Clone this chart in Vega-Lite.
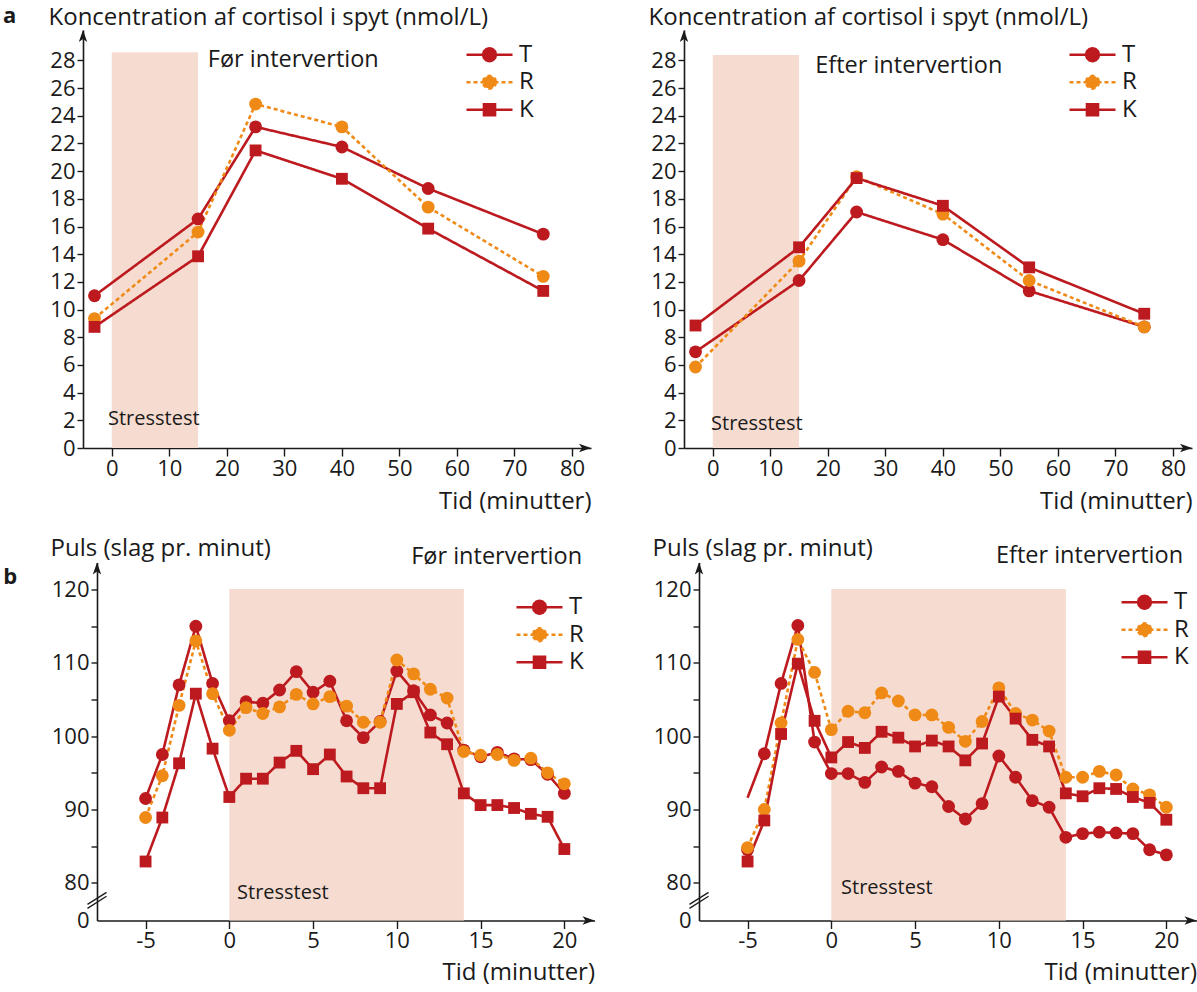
{
  "$schema": "https://vega.github.io/schema/vega-lite/v6.json",
  "padding": {"left": 3, "top": 4, "right": 0, "bottom": 6},
  "background": "white",
  "spacing": 22.5,
  "resolve": {"scale": {"x": "independent", "y": "independent", "color": "independent", "strokeDash": "independent"}, "axis": {"x": "independent", "y": "independent"}, "legend": {"color": "independent", "strokeDash": "independent"}},
  "config": {
    "font": "Open Sans",
    "view": {"stroke": null},
    "axis": {"domainColor": "#1a1a1a", "domainWidth": 1.6, "tickColor": "#1a1a1a", "tickWidth": 1.4, "labelFont": "Open Sans", "labelFontSize": 22, "labelColor": "#1a1a1a", "labelPadding": 2, "labelFlush": false, "labelOverlap": false, "titleFont": "Open Sans", "titleFontSize": 24, "titleFontWeight": "normal", "titleColor": "#1a1a1a", "grid": false, "tickCount": 100},
    "legend": {"labelFont": "Open Sans", "labelFontSize": 24, "labelColor": "#1a1a1a"}
  },
  "datasets": {
    "cortFor": [
      {"t": -3, "s": "T", "v": 11.0}, {"t": 15, "s": "T", "v": 16.55}, {"t": 25, "s": "T", "v": 23.2}, {"t": 40, "s": "T", "v": 21.75}, {"t": 55, "s": "T", "v": 18.75}, {"t": 75, "s": "T", "v": 15.45},
      {"t": -3, "s": "R", "v": 9.35}, {"t": 15, "s": "R", "v": 15.6}, {"t": 25, "s": "R", "v": 24.85}, {"t": 40, "s": "R", "v": 23.2}, {"t": 55, "s": "R", "v": 17.4}, {"t": 75, "s": "R", "v": 12.4},
      {"t": -3, "s": "K", "v": 8.75}, {"t": 15, "s": "K", "v": 13.85}, {"t": 25, "s": "K", "v": 21.5}, {"t": 40, "s": "K", "v": 19.45}, {"t": 55, "s": "K", "v": 15.85}, {"t": 75, "s": "K", "v": 11.35}
    ],
    "cortEfter": [
      {"t": -3, "s": "T", "v": 6.95}, {"t": 15, "s": "T", "v": 12.1}, {"t": 25, "s": "T", "v": 17.05}, {"t": 40, "s": "T", "v": 15.05}, {"t": 55, "s": "T", "v": 11.35}, {"t": 75, "s": "T", "v": 8.75},
      {"t": -3, "s": "R", "v": 5.85}, {"t": 15, "s": "R", "v": 13.5}, {"t": 25, "s": "R", "v": 19.6}, {"t": 40, "s": "R", "v": 16.9}, {"t": 55, "s": "R", "v": 12.1}, {"t": 75, "s": "R", "v": 8.75},
      {"t": -3, "s": "K", "v": 8.85}, {"t": 15, "s": "K", "v": 14.5}, {"t": 25, "s": "K", "v": 19.5}, {"t": 40, "s": "K", "v": 17.5}, {"t": 55, "s": "K", "v": 13.05}, {"t": 75, "s": "K", "v": 9.7}
    ],
    "pulsFor": [
      {"t": -5, "s": "T", "v": 91.5}, {"t": -4, "s": "T", "v": 97.5}, {"t": -3, "s": "T", "v": 107.0}, {"t": -2, "s": "T", "v": 115.0}, {"t": -1, "s": "T", "v": 107.2}, {"t": 0, "s": "T", "v": 102.1}, {"t": 1, "s": "T", "v": 104.7}, {"t": 2, "s": "T", "v": 104.5}, {"t": 3, "s": "T", "v": 106.3}, {"t": 4, "s": "T", "v": 108.8}, {"t": 5, "s": "T", "v": 106.0}, {"t": 6, "s": "T", "v": 107.5}, {"t": 7, "s": "T", "v": 102.1}, {"t": 8, "s": "T", "v": 99.8}, {"t": 9, "s": "T", "v": 102.0}, {"t": 10, "s": "T", "v": 108.9}, {"t": 11, "s": "T", "v": 106.2}, {"t": 12, "s": "T", "v": 102.9}, {"t": 13, "s": "T", "v": 101.8}, {"t": 14, "s": "T", "v": 98.1}, {"t": 15, "s": "T", "v": 97.2}, {"t": 16, "s": "T", "v": 97.8}, {"t": 17, "s": "T", "v": 96.9}, {"t": 18, "s": "T", "v": 96.8}, {"t": 19, "s": "T", "v": 94.8}, {"t": 20, "s": "T", "v": 92.2},
      {"t": -5, "s": "R", "v": 88.9}, {"t": -4, "s": "R", "v": 94.6}, {"t": -3, "s": "R", "v": 104.2}, {"t": -2, "s": "R", "v": 113.0}, {"t": -1, "s": "R", "v": 105.8}, {"t": 0, "s": "R", "v": 100.8}, {"t": 1, "s": "R", "v": 103.9}, {"t": 2, "s": "R", "v": 103.1}, {"t": 3, "s": "R", "v": 104.0}, {"t": 4, "s": "R", "v": 105.7}, {"t": 5, "s": "R", "v": 104.4}, {"t": 6, "s": "R", "v": 105.4}, {"t": 7, "s": "R", "v": 104.1}, {"t": 8, "s": "R", "v": 101.9}, {"t": 9, "s": "R", "v": 101.9}, {"t": 10, "s": "R", "v": 110.4}, {"t": 11, "s": "R", "v": 108.5}, {"t": 12, "s": "R", "v": 106.4}, {"t": 13, "s": "R", "v": 105.2}, {"t": 14, "s": "R", "v": 97.9}, {"t": 15, "s": "R", "v": 97.4}, {"t": 16, "s": "R", "v": 97.5}, {"t": 17, "s": "R", "v": 96.7}, {"t": 18, "s": "R", "v": 97.0}, {"t": 19, "s": "R", "v": 95.0}, {"t": 20, "s": "R", "v": 93.5},
      {"t": -5, "s": "K", "v": 82.9}, {"t": -4, "s": "K", "v": 88.9}, {"t": -3, "s": "K", "v": 96.3}, {"t": -2, "s": "K", "v": 105.8}, {"t": -1, "s": "K", "v": 98.3}, {"t": 0, "s": "K", "v": 91.7}, {"t": 1, "s": "K", "v": 94.2}, {"t": 2, "s": "K", "v": 94.2}, {"t": 3, "s": "K", "v": 96.4}, {"t": 4, "s": "K", "v": 98.0}, {"t": 5, "s": "K", "v": 95.5}, {"t": 6, "s": "K", "v": 97.5}, {"t": 7, "s": "K", "v": 94.5}, {"t": 8, "s": "K", "v": 92.9}, {"t": 9, "s": "K", "v": 92.9}, {"t": 10, "s": "K", "v": 104.4}, {"t": 11, "s": "K", "v": 106.0}, {"t": 12, "s": "K", "v": 100.5}, {"t": 13, "s": "K", "v": 98.9}, {"t": 14, "s": "K", "v": 92.2}, {"t": 15, "s": "K", "v": 90.6}, {"t": 16, "s": "K", "v": 90.6}, {"t": 17, "s": "K", "v": 90.2}, {"t": 18, "s": "K", "v": 89.4}, {"t": 19, "s": "K", "v": 89.0}, {"t": 20, "s": "K", "v": 84.6}
    ],
    "pulsEfter": [
      {"t": -5, "s": "T", "v": 91.6, "p": "line"}, {"t": -5, "s": "T", "v": 84.5, "p": "point"}, {"t": -4, "s": "T", "v": 97.6}, {"t": -3, "s": "T", "v": 107.2}, {"t": -2, "s": "T", "v": 115.1}, {"t": -1, "s": "T", "v": 99.2}, {"t": 0, "s": "T", "v": 94.9}, {"t": 1, "s": "T", "v": 94.9}, {"t": 2, "s": "T", "v": 93.7}, {"t": 3, "s": "T", "v": 95.8}, {"t": 4, "s": "T", "v": 95.2}, {"t": 5, "s": "T", "v": 93.6}, {"t": 6, "s": "T", "v": 93.1}, {"t": 7, "s": "T", "v": 90.4}, {"t": 8, "s": "T", "v": 88.7}, {"t": 9, "s": "T", "v": 90.8}, {"t": 10, "s": "T", "v": 97.3}, {"t": 11, "s": "T", "v": 94.4}, {"t": 12, "s": "T", "v": 91.2}, {"t": 13, "s": "T", "v": 90.3}, {"t": 14, "s": "T", "v": 86.2}, {"t": 15, "s": "T", "v": 86.7}, {"t": 16, "s": "T", "v": 86.9}, {"t": 17, "s": "T", "v": 86.8}, {"t": 18, "s": "T", "v": 86.7}, {"t": 19, "s": "T", "v": 84.5}, {"t": 20, "s": "T", "v": 83.8},
      {"t": -5, "s": "R", "v": 84.8}, {"t": -4, "s": "R", "v": 90.0}, {"t": -3, "s": "R", "v": 101.8}, {"t": -2, "s": "R", "v": 113.2}, {"t": -1, "s": "R", "v": 108.7}, {"t": 0, "s": "R", "v": 100.9}, {"t": 1, "s": "R", "v": 103.4}, {"t": 2, "s": "R", "v": 103.2}, {"t": 3, "s": "R", "v": 105.9}, {"t": 4, "s": "R", "v": 104.8}, {"t": 5, "s": "R", "v": 102.9}, {"t": 6, "s": "R", "v": 102.9}, {"t": 7, "s": "R", "v": 101.2}, {"t": 8, "s": "R", "v": 99.3}, {"t": 9, "s": "R", "v": 102.0}, {"t": 10, "s": "R", "v": 106.6}, {"t": 11, "s": "R", "v": 103.1}, {"t": 12, "s": "R", "v": 102.2}, {"t": 13, "s": "R", "v": 100.7}, {"t": 14, "s": "R", "v": 94.4}, {"t": 15, "s": "R", "v": 94.4}, {"t": 16, "s": "R", "v": 95.2}, {"t": 17, "s": "R", "v": 94.7}, {"t": 18, "s": "R", "v": 92.8}, {"t": 19, "s": "R", "v": 92.0}, {"t": 20, "s": "R", "v": 90.3},
      {"t": -5, "s": "K", "v": 82.9}, {"t": -4, "s": "K", "v": 88.5}, {"t": -3, "s": "K", "v": 100.3}, {"t": -2, "s": "K", "v": 109.9}, {"t": -1, "s": "K", "v": 102.1}, {"t": 0, "s": "K", "v": 97.1}, {"t": 1, "s": "K", "v": 99.2}, {"t": 2, "s": "K", "v": 98.4}, {"t": 3, "s": "K", "v": 100.6}, {"t": 4, "s": "K", "v": 99.8}, {"t": 5, "s": "K", "v": 98.6}, {"t": 6, "s": "K", "v": 99.4}, {"t": 7, "s": "K", "v": 98.6}, {"t": 8, "s": "K", "v": 96.7}, {"t": 9, "s": "K", "v": 99.0}, {"t": 10, "s": "K", "v": 105.4}, {"t": 11, "s": "K", "v": 102.4}, {"t": 12, "s": "K", "v": 99.5}, {"t": 13, "s": "K", "v": 98.6}, {"t": 14, "s": "K", "v": 92.2}, {"t": 15, "s": "K", "v": 91.8}, {"t": 16, "s": "K", "v": 92.9}, {"t": 17, "s": "K", "v": 92.8}, {"t": 18, "s": "K", "v": 91.7}, {"t": 19, "s": "K", "v": 90.9}, {"t": 20, "s": "K", "v": 88.6}
    ]
  },
  "vconcat": [
    {
      "bounds": "flush",
      "spacing": 93,
      "resolve": {"scale": {"x": "independent", "y": "independent", "color": "independent", "strokeDash": "independent"}, "axis": {"x": "independent", "y": "independent"}, "legend": {"color": "independent", "strokeDash": "independent"}},
      "hconcat": [
        {
          "width": 508, "height": 418,
          "data": {"name": "cortFor"},
          "layer": [
            {"data": {"values": [{}]}, "mark": {"type": "rect", "color": "#f6dcd0"}, "encoding": {"x": {"datum": 0}, "x2": {"datum": 15}, "y": {"datum": 0}, "y2": {"datum": 28.6}}},
            {"transform": [{"filter": "datum.p !== 'point'"}], "mark": {"type": "line", "strokeWidth": 2.6},
             "encoding": {
               "x": {"field": "t", "type": "quantitative", "scale": {"domain": [-5, 83.3], "nice": false, "zero": false}, "axis": {"title": "Tid (minutter)", "values": [0,10,20,30,40,50,60,70,80], "format": "d", "tickSize": 8, "titleX": 508, "titleY": 60, "titleAlign": "right", "titleAnchor": "end", "titleBaseline": "alphabetic"}},
               "y": {"field": "v", "type": "quantitative", "scale": {"domain": [0, 30.2], "nice": false, "zero": false}, "axis": {"title": "Koncentration af cortisol i spyt (nmol/L)", "values": [0,2,4,6,8,10,12,14,16,18,20,22,24,26,28], "format": "d", "tickSize": 6, "titleAngle": 0, "titleAlign": "left", "titleAnchor": "start", "titleBaseline": "alphabetic", "titleX": -35, "titleY": -5.5}},
               "color": {"field": "s", "type": "nominal", "scale": {"domain": ["T","R","K"], "range": ["#bd1a1f","#ef8a17","#bd1a1f"]},
                 "legend": {"title": null, "orient": "none", "direction": "vertical", "legendX": 382, "legendY": 12.7, "padding": 0, "rowPadding": 3.5, "clipHeight": 24, "labelOffset": 5, "symbolSize": 2116, "symbolStrokeWidth": 2.6,
                   "symbolType": {"expr": "datum.value === 'K' ? 'M-1,0L1,0M-0.24,-0.24L0.24,-0.24L0.24,0.24L-0.24,0.24Z' : 'M-1,0L1,0M0.28,0L0.2425,0.14L0.14,0.2425L0,0.28L-0.14,0.2425L-0.2425,0.14L-0.28,0L-0.2425,-0.14L-0.14,-0.2425L0,-0.28L0.14,-0.2425L0.2425,-0.14Z'"}}},
               "strokeDash": {"field": "s", "type": "nominal", "scale": {"domain": ["T","R","K"], "range": [[1,0],[4,3],[1,0]]}, "legend": null}
             }},
            {"transform": [{"filter": "datum.p !== 'line' && datum.s !== 'K'"}], "mark": {"type": "point", "shape": "circle", "filled": true, "opacity": 1, "size": 165},
             "encoding": {
               "x": {"field": "t", "type": "quantitative"},
               "y": {"field": "v", "type": "quantitative"},
               "color": {"field": "s", "type": "nominal", "scale": {"domain": ["T","R","K"], "range": ["#bd1a1f","#ef8a17","#bd1a1f"]}}
             }},
            {"transform": [{"filter": "datum.p !== 'line' && datum.s === 'K'"}], "mark": {"type": "point", "shape": "square", "filled": true, "opacity": 1, "size": 140},
             "encoding": {
               "x": {"field": "t", "type": "quantitative"},
               "y": {"field": "v", "type": "quantitative"},
               "color": {"field": "s", "type": "nominal", "scale": {"domain": ["T","R","K"], "range": ["#bd1a1f","#ef8a17","#bd1a1f"]}}
             }},
            {"data": {"values": [{}]}, "mark": {"type": "text", "text": "Før intervertion", "align": "left", "baseline": "middle", "font": "Open Sans", "fontSize": 23.5, "color": "#1a1a1a"}, "encoding": {"x": {"datum": 16.7}, "y": {"datum": 28.0}}},
            {"data": {"values": [{}]}, "mark": {"type": "text", "text": "Stresstest", "align": "left", "baseline": "middle", "font": "Open Sans", "fontSize": 20, "color": "#1a1a1a"}, "encoding": {"x": {"datum": -0.66}, "y": {"datum": 2.1}}},
            {"data": {"values": [{}]}, "mark": {"type": "text", "text": "a", "align": "left", "baseline": "alphabetic", "font": "Open Sans", "fontSize": 22, "fontWeight": "bold", "color": "#1a1a1a"}, "encoding": {"x": {"datum": -18.9}, "y": {"datum": 30.73}}},
            {"data": {"values": [{}]}, "mark": {"type": "point", "shape": "M0,0L-2,-0.7L-1.5,0L-2,0.7Z", "size": 144, "filled": true, "color": "#1a1a1a", "opacity": 1}, "encoding": {"x": {"datum": 83.3}, "y": {"datum": 0}}},
            {"data": {"values": [{}]}, "mark": {"type": "point", "shape": "M0,0L-0.7,2L0,1.5L0.7,2Z", "size": 144, "filled": true, "color": "#1a1a1a", "opacity": 1}, "encoding": {"x": {"datum": -5}, "y": {"datum": 30.2}}}
          ]
        },
        {
          "width": 508, "height": 418,
          "data": {"name": "cortEfter"},
          "layer": [
            {"data": {"values": [{}]}, "mark": {"type": "rect", "color": "#f6dcd0"}, "encoding": {"x": {"datum": 0}, "x2": {"datum": 15}, "y": {"datum": 0}, "y2": {"datum": 28.4}}},
            {"transform": [{"filter": "datum.p !== 'point'"}], "mark": {"type": "line", "strokeWidth": 2.6},
             "encoding": {
               "x": {"field": "t", "type": "quantitative", "scale": {"domain": [-5, 83.3], "nice": false, "zero": false}, "axis": {"title": "Tid (minutter)", "values": [0,10,20,30,40,50,60,70,80], "format": "d", "tickSize": 8, "titleX": 508, "titleY": 60, "titleAlign": "right", "titleAnchor": "end", "titleBaseline": "alphabetic"}},
               "y": {"field": "v", "type": "quantitative", "scale": {"domain": [0, 30.2], "nice": false, "zero": false}, "axis": {"title": "Koncentration af cortisol i spyt (nmol/L)", "values": [0,2,4,6,8,10,12,14,16,18,20,22,24,26,28], "format": "d", "tickSize": 6, "titleAngle": 0, "titleAlign": "left", "titleAnchor": "start", "titleBaseline": "alphabetic", "titleX": -36, "titleY": -5.5}},
               "color": {"field": "s", "type": "nominal", "scale": {"domain": ["T","R","K"], "range": ["#bd1a1f","#ef8a17","#bd1a1f"]},
                 "legend": {"title": null, "orient": "none", "direction": "vertical", "legendX": 384, "legendY": 12.7, "padding": 0, "rowPadding": 3.5, "clipHeight": 24, "labelOffset": 5, "symbolSize": 2116, "symbolStrokeWidth": 2.6,
                   "symbolType": {"expr": "datum.value === 'K' ? 'M-1,0L1,0M-0.24,-0.24L0.24,-0.24L0.24,0.24L-0.24,0.24Z' : 'M-1,0L1,0M0.28,0L0.2425,0.14L0.14,0.2425L0,0.28L-0.14,0.2425L-0.2425,0.14L-0.28,0L-0.2425,-0.14L-0.14,-0.2425L0,-0.28L0.14,-0.2425L0.2425,-0.14Z'"}}},
               "strokeDash": {"field": "s", "type": "nominal", "scale": {"domain": ["T","R","K"], "range": [[1,0],[4,3],[1,0]]}, "legend": null}
             }},
            {"transform": [{"filter": "datum.p !== 'line' && datum.s !== 'K'"}], "mark": {"type": "point", "shape": "circle", "filled": true, "opacity": 1, "size": 165},
             "encoding": {
               "x": {"field": "t", "type": "quantitative"},
               "y": {"field": "v", "type": "quantitative"},
               "color": {"field": "s", "type": "nominal", "scale": {"domain": ["T","R","K"], "range": ["#bd1a1f","#ef8a17","#bd1a1f"]}}
             }},
            {"transform": [{"filter": "datum.p !== 'line' && datum.s === 'K'"}], "mark": {"type": "point", "shape": "square", "filled": true, "opacity": 1, "size": 140},
             "encoding": {
               "x": {"field": "t", "type": "quantitative"},
               "y": {"field": "v", "type": "quantitative"},
               "color": {"field": "s", "type": "nominal", "scale": {"domain": ["T","R","K"], "range": ["#bd1a1f","#ef8a17","#bd1a1f"]}}
             }},
            {"data": {"values": [{}]}, "mark": {"type": "text", "text": "Efter intervertion", "align": "left", "baseline": "middle", "font": "Open Sans", "fontSize": 23.5, "color": "#1a1a1a"}, "encoding": {"x": {"datum": 17.8}, "y": {"datum": 27.6}}},
            {"data": {"values": [{}]}, "mark": {"type": "text", "text": "Stresstest", "align": "left", "baseline": "middle", "font": "Open Sans", "fontSize": 20, "color": "#1a1a1a"}, "encoding": {"x": {"datum": -0.3}, "y": {"datum": 1.75}}},
            {"data": {"values": [{}]}, "mark": {"type": "point", "shape": "M0,0L-2,-0.7L-1.5,0L-2,0.7Z", "size": 144, "filled": true, "color": "#1a1a1a", "opacity": 1}, "encoding": {"x": {"datum": 83.3}, "y": {"datum": 0}}},
            {"data": {"values": [{}]}, "mark": {"type": "point", "shape": "M0,0L-0.7,2L0,1.5L0.7,2Z", "size": 144, "filled": true, "color": "#1a1a1a", "opacity": 1}, "encoding": {"x": {"datum": -5}, "y": {"datum": 30.2}}}
          ]
        }
      ]
    },
    {
      "bounds": "flush",
      "spacing": 0,
      "resolve": {"scale": {"x": "independent", "y": "independent", "color": "independent", "strokeDash": "independent"}, "axis": {"x": "independent", "y": "independent"}, "legend": {"color": "independent", "strokeDash": "independent"}},
      "hconcat": [
        {"width": 14, "height": 1, "data": {"values": [{}]}, "mark": {"type": "point", "opacity": 0}, "encoding": {}},
        {
          "width": 497.5, "height": 358,
          "data": {"name": "pulsFor"},
          "layer": [
            {"data": {"values": [{}]}, "mark": {"type": "rect", "color": "#f6dcd0"}, "encoding": {"x": {"datum": 0}, "x2": {"datum": 14}, "y": {"datum": 74.85}, "y2": {"datum": 120.1}}},
            {"transform": [{"filter": "datum.p !== 'point'"}], "mark": {"type": "line", "strokeWidth": 2.6},
             "encoding": {
               "x": {"field": "t", "type": "quantitative", "scale": {"domain": [-7.9, 21.8], "nice": false, "zero": false}, "axis": {"title": "Tid (minutter)", "values": [-5,0,5,10,15,20], "labelExpr": "datum.value + ''", "tickSize": 8, "titleX": 497.5, "titleY": 58.5, "titleAlign": "right", "titleAnchor": "end", "titleBaseline": "alphabetic"}},
               "y": {"field": "v", "type": "quantitative", "scale": {"domain": [74.85, 123.7], "nice": false, "zero": false}, "axis": {"title": "Puls (slag pr. minut)", "values": [74.85,80,85,90,95,100,105,110,115,120], "labelExpr": "datum.value < 79 ? '0' : (datum.value % 10 === 0 ? datum.value + '' : '')", "tickOpacity": {"condition": {"test": "datum.value < 79", "value": 0}, "value": 1}, "tickSize": 6, "titleAngle": 0, "titleAlign": "left", "titleAnchor": "start", "titleBaseline": "alphabetic", "titleX": -47, "titleY": -7.5}},
               "color": {"field": "s", "type": "nominal", "scale": {"domain": ["T","R","K"], "range": ["#bd1a1f","#ef8a17","#bd1a1f"]},
                 "legend": {"title": null, "orient": "none", "direction": "vertical", "legendX": 418, "legendY": 32.7, "padding": 0, "rowPadding": 3.5, "clipHeight": 24, "labelOffset": 5, "symbolSize": 2116, "symbolStrokeWidth": 2.6,
                   "symbolType": {"expr": "datum.value === 'K' ? 'M-1,0L1,0M-0.24,-0.24L0.24,-0.24L0.24,0.24L-0.24,0.24Z' : 'M-1,0L1,0M0.28,0L0.2425,0.14L0.14,0.2425L0,0.28L-0.14,0.2425L-0.2425,0.14L-0.28,0L-0.2425,-0.14L-0.14,-0.2425L0,-0.28L0.14,-0.2425L0.2425,-0.14Z'"}}},
               "strokeDash": {"field": "s", "type": "nominal", "scale": {"domain": ["T","R","K"], "range": [[1,0],[4,3],[1,0]]}, "legend": null}
             }},
            {"transform": [{"filter": "datum.p !== 'line' && datum.s !== 'K'"}], "mark": {"type": "point", "shape": "circle", "filled": true, "opacity": 1, "size": 165},
             "encoding": {
               "x": {"field": "t", "type": "quantitative"},
               "y": {"field": "v", "type": "quantitative"},
               "color": {"field": "s", "type": "nominal", "scale": {"domain": ["T","R","K"], "range": ["#bd1a1f","#ef8a17","#bd1a1f"]}}
             }},
            {"transform": [{"filter": "datum.p !== 'line' && datum.s === 'K'"}], "mark": {"type": "point", "shape": "square", "filled": true, "opacity": 1, "size": 140},
             "encoding": {
               "x": {"field": "t", "type": "quantitative"},
               "y": {"field": "v", "type": "quantitative"},
               "color": {"field": "s", "type": "nominal", "scale": {"domain": ["T","R","K"], "range": ["#bd1a1f","#ef8a17","#bd1a1f"]}}
             }},
            {"data": {"values": [{}]}, "mark": {"type": "text", "text": "Før intervertion", "align": "right", "baseline": "middle", "font": "Open Sans", "fontSize": 23.5, "color": "#1a1a1a"}, "encoding": {"x": {"datum": 21.06}, "y": {"datum": 124.4}}},
            {"data": {"values": [{}]}, "mark": {"type": "text", "text": "Stresstest", "align": "left", "baseline": "middle", "font": "Open Sans", "fontSize": 20, "color": "#1a1a1a"}, "encoding": {"x": {"datum": 0.46}, "y": {"datum": 78.6}}},
            {"data": {"values": [{}]}, "mark": {"type": "text", "text": "b", "align": "left", "baseline": "alphabetic", "font": "Open Sans", "fontSize": 22, "fontWeight": "bold", "color": "#1a1a1a"}, "encoding": {"x": {"datum": -13.5}, "y": {"datum": 120.74}}},
            {"data": {"values": [{}]}, "mark": {"type": "rule", "color": "#1a1a1a", "strokeWidth": 1.3}, "encoding": {"x": {"datum": -8.47}, "x2": {"datum": -7.33}, "y": {"datum": 77.05}, "y2": {"datum": 78.69}}},
            {"data": {"values": [{}]}, "mark": {"type": "rule", "color": "#1a1a1a", "strokeWidth": 1.3}, "encoding": {"x": {"datum": -8.47}, "x2": {"datum": -7.33}, "y": {"datum": 76.51}, "y2": {"datum": 78.15}}},
            {"data": {"values": [{}]}, "mark": {"type": "point", "shape": "M0,0L-2,-0.7L-1.5,0L-2,0.7Z", "size": 144, "filled": true, "color": "#1a1a1a", "opacity": 1}, "encoding": {"x": {"datum": 21.8}, "y": {"datum": 74.85}}},
            {"data": {"values": [{}]}, "mark": {"type": "point", "shape": "M0,0L-0.7,2L0,1.5L0.7,2Z", "size": 144, "filled": true, "color": "#1a1a1a", "opacity": 1}, "encoding": {"x": {"datum": -7.9}, "y": {"datum": 123.7}}}
          ]
        },
        {"width": 103.5, "height": 1, "data": {"values": [{}]}, "mark": {"type": "point", "opacity": 0}, "encoding": {}},
        {
          "width": 497.5, "height": 358,
          "data": {"name": "pulsEfter"},
          "layer": [
            {"data": {"values": [{}]}, "mark": {"type": "rect", "color": "#f6dcd0"}, "encoding": {"x": {"datum": 0}, "x2": {"datum": 14}, "y": {"datum": 74.85}, "y2": {"datum": 120.1}}},
            {"transform": [{"filter": "datum.p !== 'point'"}], "mark": {"type": "line", "strokeWidth": 2.6},
             "encoding": {
               "x": {"field": "t", "type": "quantitative", "scale": {"domain": [-7.9, 21.8], "nice": false, "zero": false}, "axis": {"title": "Tid (minutter)", "values": [-5,0,5,10,15,20], "labelExpr": "datum.value + ''", "tickSize": 8, "titleX": 497.5, "titleY": 58.5, "titleAlign": "right", "titleAnchor": "end", "titleBaseline": "alphabetic"}},
               "y": {"field": "v", "type": "quantitative", "scale": {"domain": [74.85, 123.7], "nice": false, "zero": false}, "axis": {"title": "Puls (slag pr. minut)", "values": [74.85,80,85,90,95,100,105,110,115,120], "labelExpr": "datum.value < 79 ? '0' : (datum.value % 10 === 0 ? datum.value + '' : '')", "tickOpacity": {"condition": {"test": "datum.value < 79", "value": 0}, "value": 1}, "tickSize": 6, "titleAngle": 0, "titleAlign": "left", "titleAnchor": "start", "titleBaseline": "alphabetic", "titleX": -47, "titleY": -7.5}},
               "color": {"field": "s", "type": "nominal", "scale": {"domain": ["T","R","K"], "range": ["#bd1a1f","#ef8a17","#bd1a1f"]},
                 "legend": {"title": null, "orient": "none", "direction": "vertical", "legendX": 421, "legendY": 27.7, "padding": 0, "rowPadding": 3.5, "clipHeight": 24, "labelOffset": 5, "symbolSize": 2116, "symbolStrokeWidth": 2.6,
                   "symbolType": {"expr": "datum.value === 'K' ? 'M-1,0L1,0M-0.24,-0.24L0.24,-0.24L0.24,0.24L-0.24,0.24Z' : 'M-1,0L1,0M0.28,0L0.2425,0.14L0.14,0.2425L0,0.28L-0.14,0.2425L-0.2425,0.14L-0.28,0L-0.2425,-0.14L-0.14,-0.2425L0,-0.28L0.14,-0.2425L0.2425,-0.14Z'"}}},
               "strokeDash": {"field": "s", "type": "nominal", "scale": {"domain": ["T","R","K"], "range": [[1,0],[4,3],[1,0]]}, "legend": null}
             }},
            {"transform": [{"filter": "datum.p !== 'line' && datum.s !== 'K'"}], "mark": {"type": "point", "shape": "circle", "filled": true, "opacity": 1, "size": 165},
             "encoding": {
               "x": {"field": "t", "type": "quantitative"},
               "y": {"field": "v", "type": "quantitative"},
               "color": {"field": "s", "type": "nominal", "scale": {"domain": ["T","R","K"], "range": ["#bd1a1f","#ef8a17","#bd1a1f"]}}
             }},
            {"transform": [{"filter": "datum.p !== 'line' && datum.s === 'K'"}], "mark": {"type": "point", "shape": "square", "filled": true, "opacity": 1, "size": 140},
             "encoding": {
               "x": {"field": "t", "type": "quantitative"},
               "y": {"field": "v", "type": "quantitative"},
               "color": {"field": "s", "type": "nominal", "scale": {"domain": ["T","R","K"], "range": ["#bd1a1f","#ef8a17","#bd1a1f"]}}
             }},
            {"data": {"values": [{}]}, "mark": {"type": "text", "text": "Efter intervertion", "align": "right", "baseline": "middle", "font": "Open Sans", "fontSize": 23.5, "color": "#1a1a1a"}, "encoding": {"x": {"datum": 21.0}, "y": {"datum": 124.55}}},
            {"data": {"values": [{}]}, "mark": {"type": "text", "text": "Stresstest", "align": "left", "baseline": "middle", "font": "Open Sans", "fontSize": 20, "color": "#1a1a1a"}, "encoding": {"x": {"datum": 0.58}, "y": {"datum": 79.3}}},
            {"data": {"values": [{}]}, "mark": {"type": "rule", "color": "#1a1a1a", "strokeWidth": 1.3}, "encoding": {"x": {"datum": -8.47}, "x2": {"datum": -7.33}, "y": {"datum": 77.05}, "y2": {"datum": 78.69}}},
            {"data": {"values": [{}]}, "mark": {"type": "rule", "color": "#1a1a1a", "strokeWidth": 1.3}, "encoding": {"x": {"datum": -8.47}, "x2": {"datum": -7.33}, "y": {"datum": 76.51}, "y2": {"datum": 78.15}}},
            {"data": {"values": [{}]}, "mark": {"type": "point", "shape": "M0,0L-2,-0.7L-1.5,0L-2,0.7Z", "size": 144, "filled": true, "color": "#1a1a1a", "opacity": 1}, "encoding": {"x": {"datum": 21.8}, "y": {"datum": 74.85}}},
            {"data": {"values": [{}]}, "mark": {"type": "point", "shape": "M0,0L-0.7,2L0,1.5L0.7,2Z", "size": 144, "filled": true, "color": "#1a1a1a", "opacity": 1}, "encoding": {"x": {"datum": -7.9}, "y": {"datum": 123.7}}}
          ]
        }
      ]
    }
  ]
}
